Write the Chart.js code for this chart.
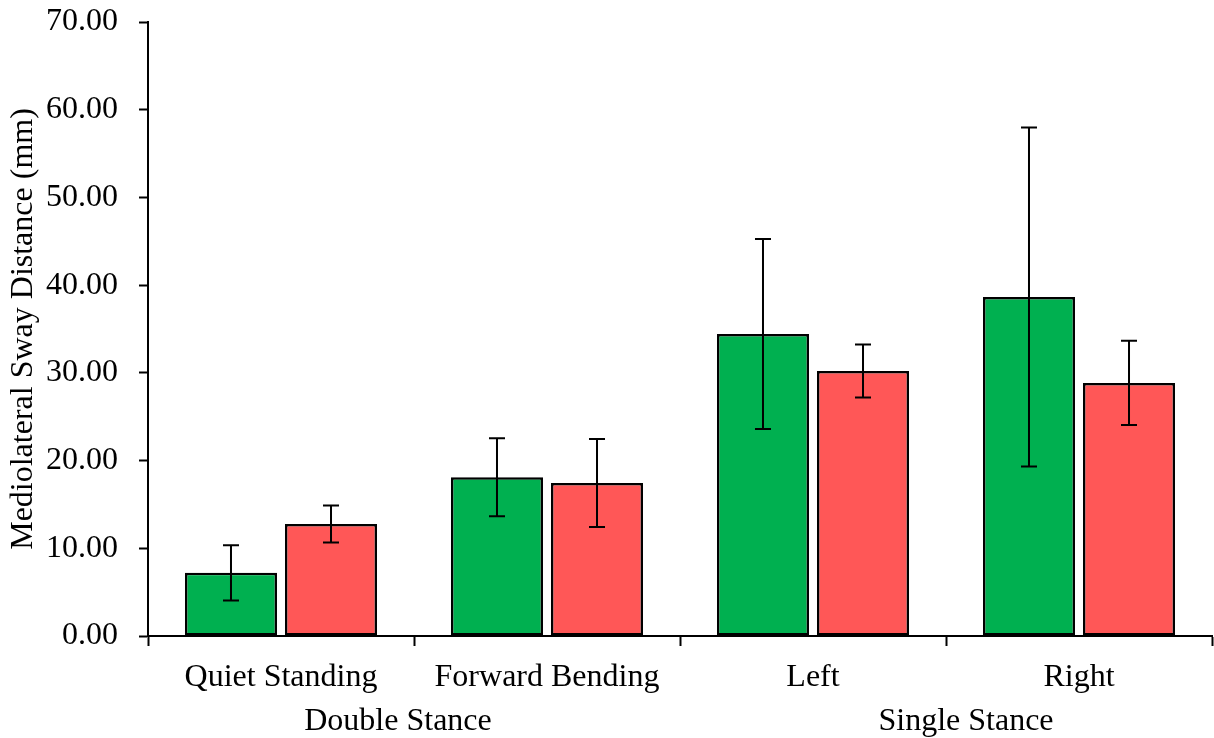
<!DOCTYPE html>
<html>
<head>
<meta charset="utf-8">
<script src="https://cdn.jsdelivr.net/npm/chart.js@4.4.1/dist/chart.umd.min.js"></script>
<style>
  html, body { margin: 0; padding: 0; background: #ffffff; }
  canvas { display: block; }
</style>
</head>
<body>
<canvas id="chart" width="1214" height="738"></canvas>
<script>
// Conditions along the x axis and the stance group each pair belongs to
const categories = ['Quiet Standing', 'Forward Bending', 'Left', 'Right'];
const stanceGroups = ['Double Stance    ', '     Single Stance'];

// Mean sway distance (mm) and standard deviation per group
const greenMeans = [7.2, 18.09, 34.43, 38.65];
const greenSD = [3.15, 4.45, 10.83, 19.32];
const redMeans = [12.77, 17.45, 30.21, 28.85];
const redSD = [2.1, 5.02, 3.02, 4.8];

// Y axis range
const yMin = 0;
const yMax = 70;
const yStep = 10;

const FONT = "'Liberation Serif', 'Times New Roman', serif";
const FONT_SIZE = 32;

// Draws mean ± SD whiskers with caps on top of each bar
const errorBars = {
  id: 'errorBars',
  afterDatasetsDraw(chart, args, opts) {
    const { ctx, scales: { y } } = chart;
    ctx.save();
    ctx.strokeStyle = '#000000';
    ctx.lineWidth = 2;
    chart.data.datasets.forEach((ds, di) => {
      const meta = chart.getDatasetMeta(di);
      meta.data.forEach((bar, i) => {
        const m = ds.data[i];
        const sd = ds.errors[i];
        const top = y.getPixelForValue(m + sd);
        const bot = y.getPixelForValue(m - sd);
        const x = bar.x;
        const cap = opts.capWidth / 2;
        ctx.beginPath();
        ctx.moveTo(x, top); ctx.lineTo(x, bot);
        ctx.moveTo(x - cap, top); ctx.lineTo(x + cap, top);
        ctx.moveTo(x - cap, bot); ctx.lineTo(x + cap, bot);
        ctx.stroke();
      });
    });
    ctx.restore();
  }
};

new Chart(document.getElementById('chart'), {
  type: 'bar',
  data: {
    labels: categories,
    datasets: [
      {
        label: 'Group 1',
        data: greenMeans,
        errors: greenSD,
        backgroundColor: '#00B050',
        borderColor: '#000000',
        borderWidth: 2.5,
        borderSkipped: false,
        categoryPercentage: 0.752,
        barPercentage: 0.92
      },
      {
        label: 'Group 2',
        data: redMeans,
        errors: redSD,
        backgroundColor: '#FF5757',
        borderColor: '#000000',
        borderWidth: 2.5,
        borderSkipped: false,
        categoryPercentage: 0.752,
        barPercentage: 0.92
      }
    ]
  },
  options: {
    responsive: false,
    animation: false,
    devicePixelRatio: 1,
    layout: { padding: { top: 22, right: 2, left: 0, bottom: 0 } },
    plugins: {
      legend: { display: false },
      tooltip: { enabled: false },
      errorBars: { capWidth: 16 }
    },
    scales: {
      x: {
        type: 'category',
        position: 'bottom',
        offset: true,
        grid: {
          display: true,
          offset: true,
          drawOnChartArea: false,
          drawTicks: true,
          tickLength: 10,
          tickWidth: 2,
          tickColor: '#000000'
        },
        border: { display: true, color: '#000000', width: 2 },
        ticks: {
          color: '#000000',
          font: { family: FONT, size: FONT_SIZE },
          padding: 12,
          maxRotation: 0,
          autoSkip: false
        },
        afterFit(scale) { scale.height = 64; }
      },
      x2: {
        type: 'category',
        position: 'bottom',
        labels: stanceGroups,
        offset: true,
        weight: 1,
        grid: { display: false, drawTicks: false },
        border: { display: false },
        ticks: {
          color: '#000000',
          font: { family: FONT, size: FONT_SIZE },
          padding: 2,
          maxRotation: 0,
          autoSkip: false
        },
        afterFit(scale) { scale.height = 38; }
      },
      y: {
        min: yMin,
        max: yMax,
        grid: {
          display: true,
          drawOnChartArea: false,
          drawTicks: true,
          tickLength: 9,
          tickWidth: 2,
          tickColor: '#000000'
        },
        border: { display: true, color: '#000000', width: 2 },
        ticks: {
          stepSize: yStep,
          color: '#000000',
          font: { family: FONT, size: FONT_SIZE },
          padding: 21,
          callback: (v) => Number(v).toFixed(2)
        },
        title: {
          display: true,
          text: 'Mediolateral Sway Distance (mm)',
          color: '#000000',
          font: { family: FONT, size: FONT_SIZE },
          padding: { top: 4, bottom: 0 }
        },
        afterFit(scale) {
          scale.width = 148;
          scale.paddingTop = 0;
          scale.paddingBottom = 0;
        }
      }
    }
  },
  plugins: [errorBars]
});
</script>
</body>
</html>
